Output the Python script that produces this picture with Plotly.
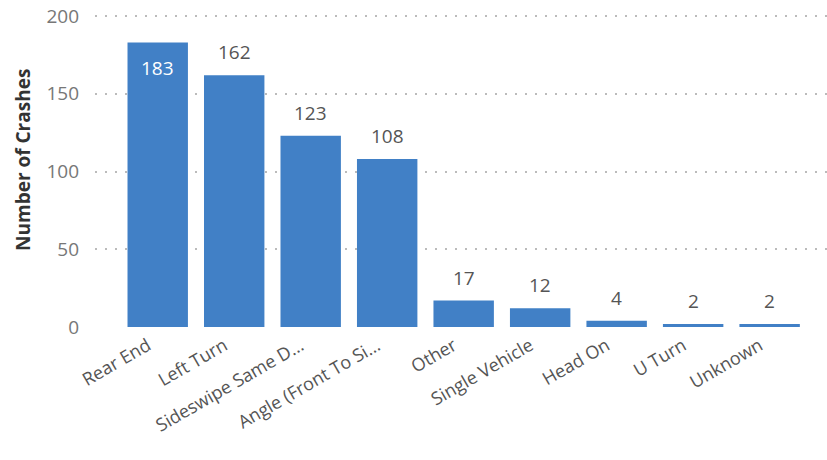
import plotly.graph_objects as go

categories = ["Rear End", "Left Turn", "Sideswipe Same D...", "Angle (Front To Si...",
              "Other", "Single Vehicle", "Head On", "U Turn", "Unknown"]
crashes = [183, 162, 123, 108, 17, 12, 4, 2, 2]
y_ticks = [0, 50, 100, 150, 200]

fig = go.Figure(go.Bar(
    x=categories, y=crashes,
    marker=dict(color="#4180C6", line=dict(width=0)),
    hoverinfo="x+y",
))

# data labels: inside (white) for the tallest bar, above the bar otherwise
for c, v in zip(categories, crashes):
    inside = v > 175
    fig.add_annotation(
        x=c, y=v, text=str(v), showarrow=False,
        yanchor="top" if inside else "bottom",
        yshift=-10 if inside else 8,
        font=dict(size=19, color="white" if inside else "#555555", family="Open Sans"),
    )

fig.add_annotation(
    xref="paper", yref="paper", x=-72 / 732, y=0.532,
    text="<b>Number of Crashes</b>", textangle=-90, showarrow=False,
    xanchor="center", yanchor="middle",
    font=dict(size=19, color="#333333", family="Open Sans"),
)

fig.update_layout(
    width=827, height=460,
    margin=dict(l=95, r=0, t=13, b=133, autoexpand=False),
    paper_bgcolor="white", plot_bgcolor="white",
    bargap=0.21,
    showlegend=False,
    font=dict(family="Open Sans", color="#555555"),
)
fig.update_xaxes(
    range=[-0.82, 8.75],
    tickangle=-30,
    tickfont=dict(size=18, color="#555555"),
    showgrid=False, showline=False, ticks="",
    ticklabelshift=-10, ticklabelstandoff=4,
    automargin=False,
)
fig.update_yaxes(
    range=[0, 202],
    tickvals=y_ticks,
    tickfont=dict(size=19, color="#777777"),
    showgrid=True, gridcolor="#BBBBBB", griddash="2px,8px", gridwidth=1.5,
    zeroline=False, showline=False, ticks="",
    ticklabelstandoff=15, ticklabeloverflow="allow",
    automargin=False,
)

# remove the page's default 8px body margin so the figure fills the window
fig.write_html("out.html", config={"displayModeBar": False},
               post_script="document.body.style.margin='0';")
